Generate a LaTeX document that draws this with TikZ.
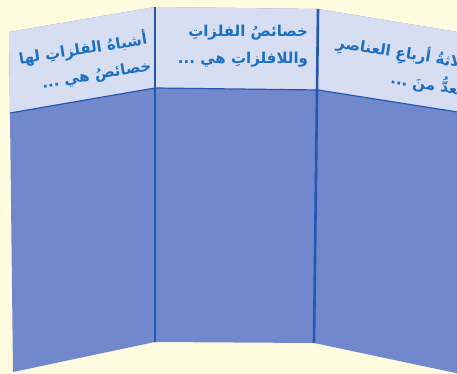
\documentclass[tikz,border=0pt]{standalone}
\usepackage{fontspec}
\newfontfamily\arabicfont[Script=Arabic]{DejaVu Sans}
\TeXXeTstate=1
\definecolor{paper}{HTML}{FEFBDF}
\definecolor{board}{HTML}{7189CC}
\definecolor{header}{HTML}{D7DEF1}
\definecolor{seam}{HTML}{2457B0}
\definecolor{ink}{HTML}{1B6FC2}
\begin{document}
\begin{tikzpicture}[x=1pt,y=-1pt,every node/.style={font=\arabicfont\bfseries\fontsize{15}{27}\selectfont,text=ink,align=right,inner sep=0pt}]
\fill[paper] (0,0) rectangle (457,374);
\useasboundingbox (0,0) rectangle (457,374);
\clip (0,0) rectangle (457,374);
% the three boards
\fill[board] (9,32) -- (155,7) -- (155,342) -- (13,372) -- cycle;
\fill[board] (155,7) -- (318,9) -- (314,343) -- (155,342) -- cycle;
\fill[board] (318,9) -- (470,34) -- (470,376) -- (314,343) -- cycle;
% headers
\fill[header] (9,32) -- (155,7) -- (155,88) -- (10,113) -- cycle;
\fill[header] (155,7) -- (318,9) -- (318,90) -- (155,88) -- cycle;
\fill[header] (318,9) -- (470,34) -- (470,114) -- (318,90) -- cycle;
\draw[seam,line width=1.2pt] (10,113) -- (155,88) -- (318,90) -- (470,114);
\draw[seam,line width=2.6pt] (155,7) -- (155,342);
\draw[seam,line width=2.6pt] (318,9) -- (314,343);
% texts
\node[rotate=9] (leftnote) at (85,62) {\beginR أشباهُ الفلزاتِ لها\endR\\\beginR خصائصُ هي ...\endR};
\node (midnote) at (243,46) {\beginR خصائصُ الفلزاتِ\endR\\\beginR واللافلزاتِ هي ...\endR};
\node[rotate=-9] (rightnote) at (400,66) {\beginR ثلاثةُ أرباعِ العناصرِ\endR\\\beginR تُعدُّ منَ ...\endR};
\end{tikzpicture}
\end{document}
